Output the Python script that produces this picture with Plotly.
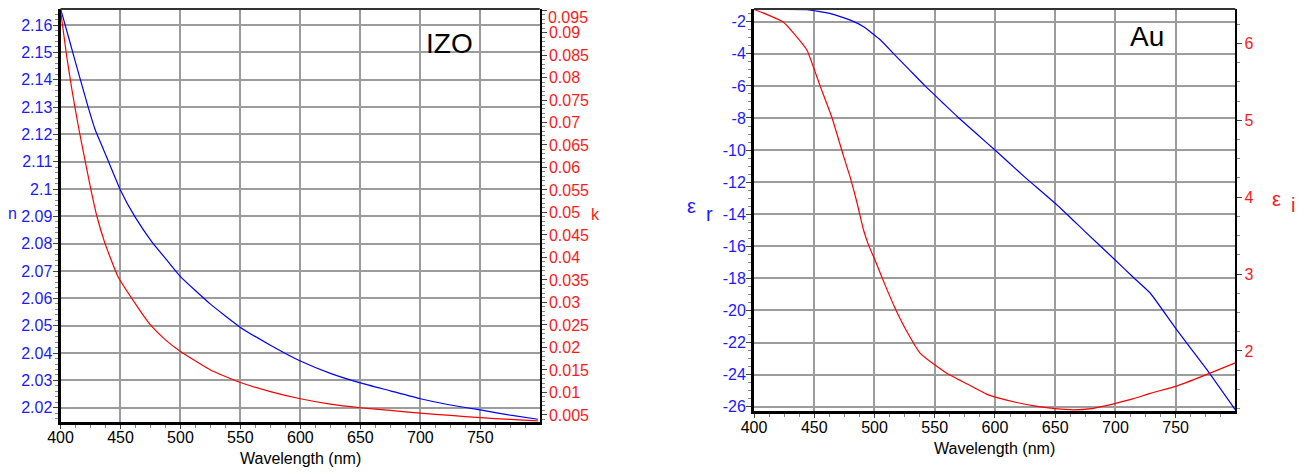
import plotly.graph_objects as go

# ---------------- IZO data ----------------
wl_n = [400, 402, 412, 423, 429, 436, 450, 462, 476, 490, 500, 525, 550, 575, 600,
        625, 650, 675, 700, 725, 750, 775, 798]
n_vals = [2.1660, 2.1630, 2.1472, 2.1301, 2.1216, 2.1143, 2.0996, 2.0899, 2.0808,
          2.0733, 2.0680, 2.0579, 2.0494, 2.0429, 2.0371, 2.0326, 2.0291, 2.0262,
          2.0233, 2.0210, 2.0192, 2.0173, 2.0158]

wl_k = [400, 405, 410, 415, 420, 425, 430, 437, 448, 465, 475, 487, 500, 525, 550,
        575, 600, 625, 650, 675, 700, 725, 750, 775, 798]
k_vals = [0.0950, 0.0850, 0.0765, 0.0690, 0.0622, 0.0555, 0.0495, 0.0432, 0.0357,
          0.0287, 0.0250, 0.0218, 0.0191, 0.0150, 0.0122, 0.0102, 0.0086, 0.0074,
          0.0066, 0.0060, 0.0054, 0.0049, 0.0044, 0.0040, 0.0037]

# ---------------- Au data ----------------
wl_er = [400, 425, 444, 463, 480, 491, 505, 516, 529, 542, 556, 570, 585, 600, 625,
         650, 675, 700, 715, 729, 750, 775, 800]
er_vals = [-1.23, -1.23, -1.25, -1.48, -1.90, -2.31, -3.14, -4.0, -5.0, -6.0, -7.0,
           -8.0, -9.0, -10.0, -11.7, -13.32, -15.1, -16.87, -17.95, -18.93, -21.12,
           -23.6, -26.25]

wl_ei = [400, 410, 424, 433, 444, 455, 465, 474, 480, 485, 491, 495, 501, 509, 517,
         527, 538, 550, 560, 577, 593, 605, 618, 635, 650, 665, 680, 700, 715, 729,
         750, 775, 800]
ei_vals = [6.44, 6.38, 6.28, 6.13, 5.91, 5.44, 5.02, 4.55, 4.25, 3.96, 3.57, 3.38,
           3.16, 2.85, 2.56, 2.25, 1.97, 1.82, 1.71, 1.57, 1.44, 1.38, 1.33, 1.28,
           1.25, 1.235, 1.25, 1.32, 1.38, 1.45, 1.54, 1.69, 1.85]

# ---------------- tick labels ----------------
x_ticks = [400, 450, 500, 550, 600, 650, 700, 750]
x_labels = ["400", "450", "500", "550", "600", "650", "700", "750"]
n_ticks = [2.02, 2.03, 2.04, 2.05, 2.06, 2.07, 2.08, 2.09, 2.10, 2.11, 2.12, 2.13,
           2.14, 2.15, 2.16]
n_labels = ["2.02", "2.03", "2.04", "2.05", "2.06", "2.07", "2.08", "2.09", "2.1",
            "2.11", "2.12", "2.13", "2.14", "2.15", "2.16"]
k_ticks = [0.005, 0.01, 0.015, 0.02, 0.025, 0.03, 0.035, 0.04, 0.045, 0.05, 0.055,
           0.06, 0.065, 0.07, 0.075, 0.08, 0.085, 0.09, 0.095]
k_labels = ["0.005", "0.01", "0.015", "0.02", "0.025", "0.03", "0.035", "0.04",
            "0.045", "0.05", "0.055", "0.06", "0.065", "0.07", "0.075", "0.08",
            "0.085", "0.09", "0.095"]
er_ticks = [-26, -24, -22, -20, -18, -16, -14, -12, -10, -8, -6, -4, -2]
er_labels = ["-26", "-24", "-22", "-20", "-18", "-16", "-14", "-12", "-10", "-8",
             "-6", "-4", "-2"]
ei_ticks = [2, 3, 4, 5, 6]
ei_labels = ["2", "3", "4", "5", "6"]

BLUE = "#0000ff"
RED = "#ff0000"
BLUE_T = "#1a1aff"
RED_T = "#ff1a1a"
FONT = "Liberation Sans, Arial, sans-serif"
GRID = "#9c9c9c"
FS = 16

# page body has an 8px margin: figure occupies 1303 x 466 of the 1311 x 474 window
W, H, OFF = 1303, 466, 8


def fx(px):
    return (px - OFF) / W


def fy(py):
    return (474 - py) / H


fig = go.Figure()
line_kw = dict(width=1.2, shape="spline", smoothing=0.4)
fig.add_trace(go.Scatter(x=wl_n, y=n_vals, mode="lines", line=dict(color=BLUE, **line_kw),
                         xaxis="x", yaxis="y"))
fig.add_trace(go.Scatter(x=wl_k, y=k_vals, mode="lines", line=dict(color=RED, **line_kw),
                         xaxis="x", yaxis="y2"))
fig.add_trace(go.Scatter(x=wl_er, y=er_vals, mode="lines", line=dict(color=BLUE, **line_kw),
                         xaxis="x2", yaxis="y3"))
fig.add_trace(go.Scatter(x=wl_ei, y=ei_vals, mode="lines", line=dict(color=RED, **line_kw),
                         xaxis="x2", yaxis="y4"))


def xax(domain, anchor):
    return dict(domain=domain, anchor=anchor, range=[400, 799.5], automargin=False,
                tickmode="array", tickvals=x_ticks, ticktext=x_labels,
                ticks="outside", ticklen=4, tickcolor="#444", ticklabelstandoff=-5,
                showline=True, linecolor="black", linewidth=3, showgrid=True,
                gridcolor=GRID, gridwidth=1.5, zeroline=False,
                tickfont=dict(family=FONT, size=FS, color="black"),
                minor=dict(tick0=400, dtick=12.5, ticks="outside", ticklen=3,
                           tickcolor="#888", showgrid=False))


def yax(domain, anchor, rng, tv, tt, mtick0, mdtick, color, side="left", overlay=None,
        grid=True, lw=3, so=-3):
    d = dict(domain=domain, anchor=anchor, range=rng, automargin=False,
             tickmode="array", tickvals=tv, ticktext=tt,
             ticks="outside", ticklen=5, tickcolor="#444", ticklabelstandoff=so,
             showline=True, linecolor="black", linewidth=lw, showgrid=grid,
             gridcolor=GRID, gridwidth=1.5, zeroline=False, side=side,
             tickfont=dict(family=FONT, size=FS, color=color),
             minor=dict(tick0=mtick0, dtick=mdtick, ticks="outside", ticklen=3,
                        tickcolor="#888", showgrid=False))
    if overlay:
        d["overlaying"] = overlay
    return d


dom_x1 = [fx(60.5), fx(539.7)]
dom_x2 = [fx(754.0), fx(1235.3)]
dom_y1 = [fy(421.7), 0.998]
dom_y2 = [fy(411.3), 0.998]

# the topmost k label sits at the very top edge; it is drawn as a text just below it
k_axis_labels = k_labels[:-1] + [""]

fig.update_layout(
    width=W, height=H,
    margin=dict(l=0, r=0, t=0, b=0, autoexpand=False),
    paper_bgcolor="white", plot_bgcolor="white",
    showlegend=False, hovermode=False,
    xaxis=xax(dom_x1, "y"),
    yaxis=yax(dom_y1, "x", [2.0149, 2.1659], n_ticks, n_labels, 2.0, 0.002, BLUE_T),
    yaxis2=yax(dom_y1, "x", [0.0035, 0.09524], k_ticks, k_axis_labels, 0.0, 0.001, RED_T,
               side="right", overlay="y", grid=False, lw=2, so=-1),
    xaxis2=xax(dom_x2, "y3"),
    yaxis3=yax(dom_y2, "x2", [-26.29, -1.20], er_ticks, er_labels, 0, 0.5, BLUE_T),
    yaxis4=yax(dom_y2, "x2", [1.216, 6.447], ei_ticks, ei_labels, 0, 0.25, RED_T,
               side="right", overlay="y3", grid=False, lw=2, so=-1),
)

# top borders
for xr, yr in (("x domain", "y domain"), ("x2 domain", "y3 domain")):
    fig.add_shape(type="line", xref=xr, yref=yr, x0=0, x1=1, y0=1, y1=1,
                  line=dict(color="#333333", width=2))

ann = [
    dict(text="IZO", px=449.7, py=43.3, size=28, color="black"),
    dict(text="Au", px=1146.7, py=36.7, size=28, color="black"),
    dict(text="n", px=12.5, py=213, size=16, color=BLUE_T),
    dict(text="k", px=595.7, py=214, size=16, color=RED_T),
    dict(text="ε", px=691, py=206, size=20, color=BLUE_T),
    dict(text="r", px=709.3, py=214, size=20, color=BLUE_T),
    dict(text="ε", px=1276.7, py=199, size=20, color=RED_T),
    dict(text="i", px=1293.3, py=205, size=20, color=RED_T),
    dict(text="Wavelength (nm)", px=300, py=458.3, size=FS, color="black"),
    dict(text="Wavelength (nm)", px=994.5, py=448.3, size=FS, color="black"),
]
for a in ann:
    fig.add_annotation(text=a["text"], x=fx(a["px"]), y=fy(a["py"]), xref="paper",
                       yref="paper", xanchor="center", yanchor="middle", showarrow=False,
                       font=dict(family=FONT, size=a["size"], color=a["color"]))

fig.add_annotation(text=k_labels[-1], x=fx(547), y=1.0, xref="paper", yref="paper",
                   xanchor="left", yanchor="top", showarrow=False, borderpad=0,
                   font=dict(family=FONT, size=FS, color=RED_T))

fig.write_html("out.html")
